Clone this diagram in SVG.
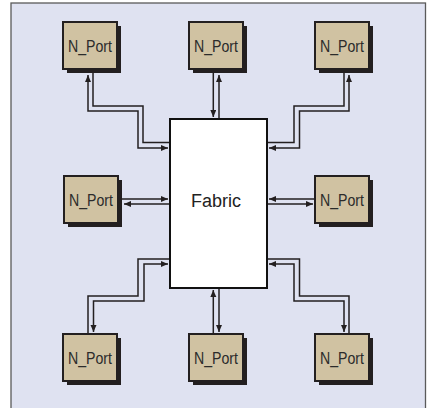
<svg xmlns="http://www.w3.org/2000/svg" width="429" height="408" viewBox="0 0 429 408">
<defs>
<style>
.bg{fill:#dfe2f1;stroke:#5a5a5a;stroke-width:1.3}
.sh{fill:#231f20}
.box{fill:#d0c2a2;stroke:#231f20;stroke-width:2}
.lbl{font-family:"Liberation Sans",Arial,sans-serif;font-size:17px;fill:#2b2b2b;text-anchor:middle}
.fab{fill:#ffffff;stroke:#111;stroke-width:2}
.fabt{font-family:"Liberation Sans",Arial,sans-serif;font-size:18px;fill:#222;text-anchor:middle}
.ln{fill:none;stroke:#231f20;stroke-width:1.5}
.a2{marker-start:url(#ah);marker-end:url(#ah)}
.a1{marker-end:url(#ah)}
</style>
<marker id="ah" markerUnits="userSpaceOnUse" markerWidth="8" markerHeight="7" refX="7" refY="3" orient="auto-start-reverse">
<path d="M0,0 L7,3 L0,6 z" fill="#231f20"/>
</marker>
</defs>
<rect class="bg" x="11" y="3" width="414.5" height="412"/>

<g id="connectors">
<path class="ln a2" d="M88,75 V111 H138 V148 H168"/>
<path class="ln" d="M93,73 V106 H143 V142.5 H170"/>
<path class="ln a2" d="M349,75 V111 H299.5 V148 H269"/>
<path class="ln" d="M344,73 V106 H294 V142.5 H267"/>
<path class="ln a1" d="M122,199 H168"/>
<path class="ln a1" d="M170,204 H124"/>
<path class="ln a1" d="M315,199 H269"/>
<path class="ln a1" d="M267,204 H313"/>
<path class="ln a1" d="M213.3,73 V117"/>
<path class="ln a1" d="M219,119 V75"/>
<path class="ln a1" d="M213.3,333 V290"/>
<path class="ln a1" d="M219,288 V332"/>
<path class="ln" d="M88,334 V296 H138 V259 H170"/>
<path class="ln a2" d="M168,264 H144 V301 H93.5 V332"/>
<path class="ln" d="M349,334 V296 H299.5 V259 H267"/>
<path class="ln a2" d="M269,264 H294 V301 H344 V332"/>
</g>

<g id="fabric">
<rect class="fab" x="170" y="119" width="97" height="169"/>
<text class="fabt" x="216" y="207">Fabric</text>
</g>

<g id="nport-tl">
<rect class="sh" x="67" y="26" width="54" height="47"/>
<rect class="box" x="63" y="22" width="54" height="47"/>
<text class="lbl" x="90" y="52" textLength="44" lengthAdjust="spacingAndGlyphs">N_Port</text>
</g>
<g id="nport-tm">
<rect class="sh" x="193" y="26" width="54" height="47"/>
<rect class="box" x="189" y="22" width="54" height="47"/>
<text class="lbl" x="216" y="52" textLength="44" lengthAdjust="spacingAndGlyphs">N_Port</text>
</g>
<g id="nport-tr">
<rect class="sh" x="319" y="26" width="54" height="47"/>
<rect class="box" x="315" y="22" width="54" height="47"/>
<text class="lbl" x="342" y="52" textLength="44" lengthAdjust="spacingAndGlyphs">N_Port</text>
</g>
<g id="nport-ml">
<rect class="sh" x="68" y="180" width="54" height="47"/>
<rect class="box" x="64" y="176" width="54" height="47"/>
<text class="lbl" x="91" y="206" textLength="44" lengthAdjust="spacingAndGlyphs">N_Port</text>
</g>
<g id="nport-mr">
<rect class="sh" x="319" y="180" width="54" height="47"/>
<rect class="box" x="315" y="176" width="54" height="47"/>
<text class="lbl" x="342" y="206" textLength="44" lengthAdjust="spacingAndGlyphs">N_Port</text>
</g>
<g id="nport-bl">
<rect class="sh" x="67" y="338" width="54" height="47"/>
<rect class="box" x="63" y="334" width="54" height="47"/>
<text class="lbl" x="90" y="364" textLength="44" lengthAdjust="spacingAndGlyphs">N_Port</text>
</g>
<g id="nport-bm">
<rect class="sh" x="193" y="338" width="54" height="47"/>
<rect class="box" x="189" y="334" width="54" height="47"/>
<text class="lbl" x="216" y="364" textLength="44" lengthAdjust="spacingAndGlyphs">N_Port</text>
</g>
<g id="nport-br">
<rect class="sh" x="319" y="338" width="54" height="47"/>
<rect class="box" x="315" y="334" width="54" height="47"/>
<text class="lbl" x="342" y="364" textLength="44" lengthAdjust="spacingAndGlyphs">N_Port</text>
</g>
</svg>
